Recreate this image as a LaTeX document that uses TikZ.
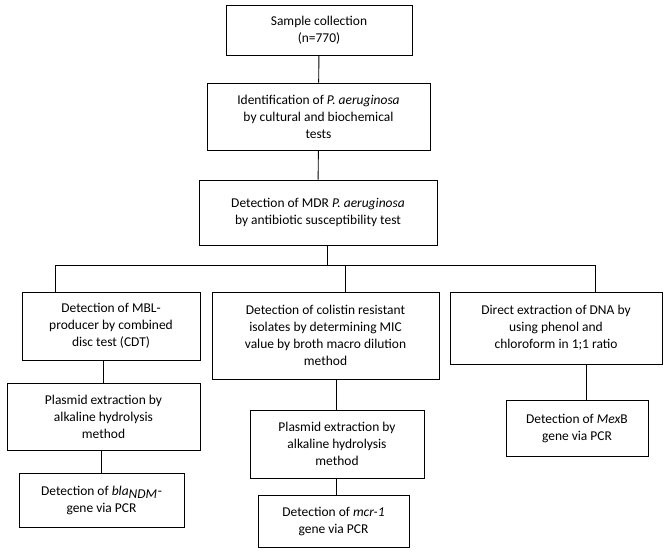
\documentclass[tikz,border=0pt]{standalone}
\usepackage{fontspec}
\setmainfont{Carlito}
\usetikzlibrary{positioning}

\begin{document}
\begin{tikzpicture}[x=0.03cm, y=-0.03cm, every node/.style={font=\fontsize{11.5}{14.5}\selectfont},
    box/.style={draw, thick, align=center, inner sep=1pt}]
    \useasboundingbox (0,0) rectangle (669,552);

    % Top chain
    \node[box, minimum width=186*0.03cm, minimum height=50*0.03cm] (collect) at (319,30) {Sample collection\\(n=770)};
    \node[box, minimum width=223*0.03cm, minimum height=67*0.03cm] (ident) at (318.5,116.5) {Identification of \textit{P. aeruginosa}\\by cultural and biochemical\\tests};
    \node[box, minimum width=238*0.03cm, minimum height=65*0.03cm] (mdr) at (318,212.5) {Detection of MDR \textit{P. aeruginosa}\\by antibiotic susceptibility test};

    % Left branch
    \node[box, minimum width=178*0.03cm, minimum height=68*0.03cm] (mbl) at (111,326) {Detection of MBL-\\producer by combined\\disc test (CDT)};
    \node[box, minimum width=193*0.03cm, minimum height=67*0.03cm] (plasL) at (103.5,416.5) {Plasmid extraction by\\alkaline hydrolysis\\method};
    \node[box, minimum width=165*0.03cm, minimum height=54*0.03cm] (bla) at (101.5,500) {Detection of \textit{bla}$_{\textit{NDM}}$-\\gene via PCR};

    % Middle branch
    \node[box, minimum width=227*0.03cm, minimum height=87*0.03cm] (col) at (325.5,335.5) {Detection of colistin resistant\\isolates by determining MIC\\value by broth macro dilution\\method};
    \node[box, minimum width=174*0.03cm, minimum height=68*0.03cm] (plasM) at (337,444) {Plasmid extraction by\\alkaline hydrolysis\\method};
    \node[box, minimum width=151*0.03cm, minimum height=52*0.03cm] (mcr) at (333.5,521) {Detection of \textit{mcr-1}\\gene via PCR};

    % Right branch
    \node[box, minimum width=212*0.03cm, minimum height=72*0.03cm] (dna) at (556,328) {Direct extraction of DNA by\\using phenol and\\chloroform in 1;1 ratio};
    \node[box, minimum width=142*0.03cm, minimum height=56*0.03cm] (mexb) at (577,428) {Detection of \textit{Mex}B\\gene via PCR};

    % Bus
    \coordinate (bus) at (327,265);
    \coordinate (busL) at (55,265);
    \coordinate (busM) at (345,265);
    \coordinate (busR) at (595,265);

    % Connectors
    \draw[thick] (collect) -- (ident);
    \draw[thick] (ident) -- (mdr);
    \draw[thick] (mdr.south -| bus) -- (bus);
    \draw[thick] (busL) -- (busR);
    \draw[thick] (busL) -- (busL |- mbl.north);
    \draw[thick] (busM) -- (busM |- col.north);
    \draw[thick] (busR) -- (busR |- dna.north);
    \draw[thick] (103,0 |- mbl.south) -- (103,0 |- plasL.north);
    \draw[thick] (101,0 |- plasL.south) -- (101,0 |- bla.north);
    \draw[thick] (336,0 |- col.south) -- (336,0 |- plasM.north);
    \draw[thick] (336,0 |- plasM.south) -- (336,0 |- mcr.north);
    \draw[thick] (586,0 |- dna.south) -- (586,0 |- mexb.north);
\end{tikzpicture}
\end{document}
